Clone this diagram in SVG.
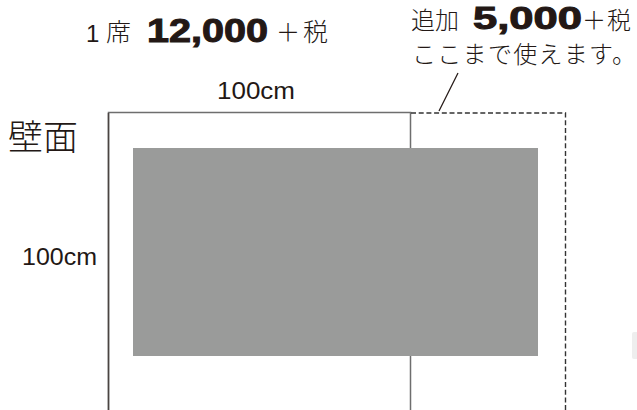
<svg xmlns="http://www.w3.org/2000/svg" width="637" height="410" viewBox="0 0 637 410">
<style>
.jp{font-family:"Noto Sans CJK JP","Noto Sans",sans-serif;font-weight:300;fill:#231815;}
.num{font-family:"Liberation Sans",Arial,sans-serif;font-weight:bold;fill:#231815;stroke:#231815;stroke-width:1;}
.lbl{font-family:"Liberation Sans",Arial,sans-serif;fill:#231815;}
.solid{stroke:#6e6e6e;stroke-width:1.5;fill:none;}
.dash{stroke:#333;stroke-width:1.4;fill:none;stroke-dasharray:5 2.7;}
</style>
<rect width="637" height="410" fill="#fff"/>
<g id="price-main">
<text class="lbl" x="86" y="42" font-size="24">1</text>
<text class="jp" x="106" y="41" font-size="25">席</text>
<text class="num" x="147" y="42" font-size="33" textLength="121" lengthAdjust="spacingAndGlyphs">12,000</text>
<text class="jp" x="276" y="41" font-size="24">＋</text>
<text class="jp" x="303" y="41" font-size="25">税</text>
</g>
<g id="price-extra">
<text class="jp" x="411" y="29" font-size="24">追加</text>
<text class="num" x="473" y="29" font-size="32" textLength="109" lengthAdjust="spacingAndGlyphs">5,000</text>
<text class="jp" x="582" y="29" font-size="24">＋</text>
<text class="jp" x="607" y="29" font-size="24">税</text>
<text class="jp" x="412" y="63" font-size="24" textLength="224" lengthAdjust="spacing">ここまで使えます。</text>
</g>
<g id="wall-label">
<text class="jp" x="8" y="150" font-size="35">壁面</text>
</g>
<g id="dim-top">
<text class="lbl" x="217" y="99" font-size="24" textLength="78" lengthAdjust="spacingAndGlyphs">100cm</text>
</g>
<g id="dim-left">
<text class="lbl" x="22" y="265" font-size="24" textLength="75" lengthAdjust="spacingAndGlyphs">100cm</text>
</g>
<g id="seat">
<path class="solid" d="M108.5 410 V112.5 H410.5 V410"/>
<path d="M108.5 113 V410" stroke="#4a4442" stroke-width="1.5"/>
</g>
<g id="extra-area">
<path class="dash" d="M411 113 H565.5 V410"/>
</g>
<g id="object">
<rect x="133" y="148" width="405" height="208" fill="#9a9b9a"/>
</g>
<g id="connectors">
<line x1="439" y1="111" x2="458" y2="73" stroke="#231815" stroke-width="1.2"/>
</g>
<rect x="632" y="332" width="8" height="27" rx="2" fill="#eeeeee"/>
</svg>
